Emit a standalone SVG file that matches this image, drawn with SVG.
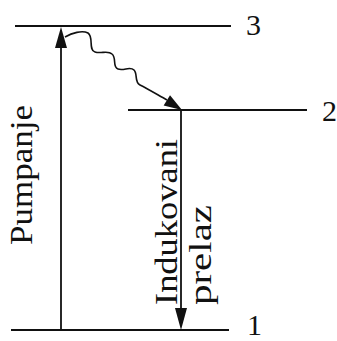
<svg xmlns="http://www.w3.org/2000/svg" width="337" height="341" viewBox="0 0 337 341">
<style>
.lvl{stroke:#111;stroke-width:2.2;fill:none}
.ln{stroke:#111;stroke-width:1.8;fill:none}
.wave{stroke:#111;stroke-width:1.6;fill:none}
.head{fill:#111;stroke:none}
text{font-family:"Liberation Serif","Times New Roman",serif;fill:#111}
.num{font-size:30px}
.lab{font-size:31px}
</style>
<rect width="337" height="341" fill="#fff"/>
<g id="level3"><line class="lvl" x1="15" y1="26" x2="231" y2="26"/><text class="num" x="246" y="35">3</text></g>
<g id="level2"><line class="lvl" x1="128" y1="110" x2="307" y2="110"/><text class="num" x="322" y="121">2</text></g>
<g id="level1"><line class="lvl" x1="11" y1="330" x2="229" y2="330"/><text class="num" x="247" y="335">1</text></g>
<g id="labels">
<text class="lab" transform="translate(32,245) rotate(-90)" textLength="140" lengthAdjust="spacingAndGlyphs">Pumpanje</text>
<text class="lab" transform="translate(177,305) rotate(-90)" textLength="166" lengthAdjust="spacingAndGlyphs">Indukovani</text>
<text class="lab" transform="translate(211,305) rotate(-90)" textLength="100" lengthAdjust="spacingAndGlyphs">prelaz</text>
</g>
<g id="connectors">
<line class="ln" x1="61" y1="330" x2="61" y2="44"/>
<polygon class="head" points="61,27 55,48 67,48"/>
<line class="ln" x1="181" y1="110" x2="181" y2="312"/>
<polygon class="head" points="181,330 175,308 187,308"/>
<path class="wave" d="M65,37 C72,33 82,30 88,33 C94,37 88,50 95,52 C101,54 108,50 112,54 C117,58 112,67 118,69 C124,71 130,66 134,70 C138,74 134,82 140,85 C148,89 158,95 167,100"/>
<polygon class="head" points="182,110 163.6,105.5 170,95.3"/>
</g>
</svg>
